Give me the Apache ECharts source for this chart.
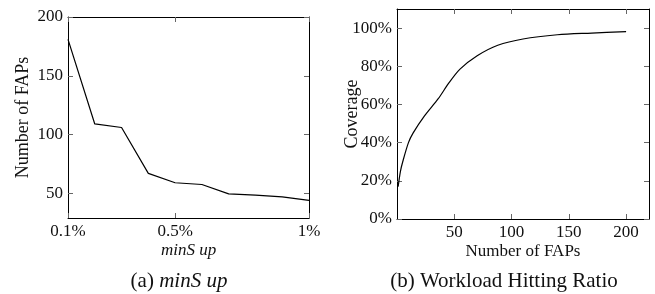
<!DOCTYPE html>
<html>
<head>
<meta charset="utf-8">
<script src="https://cdn.jsdelivr.net/npm/echarts@6/dist/echarts.min.js"></script>
<style>
  html, body { margin: 0; padding: 0; background: #fff; }
  #chart { width: 655px; height: 294px; }
</style>
</head>
<body>
<div id="chart"></div>
<script>
// (a) minSup vs number of FAPs
const minSup = [0.1, 0.2, 0.3, 0.4, 0.5, 0.6, 0.7, 0.8, 0.9, 1.0];
const fapCount = [181, 109, 106, 67, 59, 57.5, 49.5, 48.5, 47, 44];
const leftXTicks = [0.1, 0.5, 1];
const leftYTicks = [50, 100, 150, 200];

// (b) workload hitting ratio
const fapNum = [1, 3, 5, 10, 14, 24, 36, 45, 55, 70, 88, 110, 140, 170, 200];
const coverage = [17, 25, 30, 40, 45, 54, 63, 71, 78.5, 85.5, 91, 94.3, 96.5, 97.4, 98.2];
const rightXTicks = [50, 100, 150, 200];
const rightYTicks = [0, 20, 40, 60, 80, 100];

const serif = 'Liberation Serif';
const chart = echarts.init(document.getElementById('chart'));

function pct(v) {
  return Math.round(v * 10) / 10 + '%';
}

// main axis + a mirrored axis so ticks show on all four sides
function xAxes(gi, min, max, ticks, fmt, name, nameStyle) {
  return [{
    type: 'value', gridIndex: gi, min: min, max: max, position: 'bottom',
    name: name, nameLocation: 'middle', nameGap: 24, nameMoveOverlap: false,
    nameTextStyle: nameStyle,
    axisLine: { onZero: false, lineStyle: { color: '#000', width: 1 } },
    axisTick: { inside: true, length: 5, customValues: ticks, lineStyle: { color: '#666' } },
    axisLabel: { customValues: ticks, formatter: fmt, margin: 5, color: '#111', fontFamily: serif, fontSize: 17 },
    splitLine: { show: false }
  }, {
    type: 'value', gridIndex: gi, min: min, max: max, position: 'top',
    axisLine: { onZero: false, lineStyle: { color: '#000', width: 1 } },
    axisTick: { inside: true, length: 5, customValues: ticks, lineStyle: { color: '#666' } },
    axisLabel: { show: false },
    splitLine: { show: false }
  }];
}

function yAxes(gi, min, max, ticks, fmt, name, gap) {
  return [{
    type: 'value', gridIndex: gi, min: min, max: max, position: 'left',
    name: name, nameLocation: 'middle', nameGap: gap, nameRotate: 90, nameMoveOverlap: false,
    nameTextStyle: { color: '#111', fontFamily: serif, fontSize: 18 },
    axisLine: { show: true, onZero: false, lineStyle: { color: '#000', width: 1 } },
    axisTick: { show: true, inside: true, length: 5, customValues: ticks, lineStyle: { color: '#666' } },
    axisLabel: { customValues: ticks, formatter: fmt, margin: 5, color: '#111', fontFamily: serif, fontSize: 17 },
    splitLine: { show: false }
  }, {
    type: 'value', gridIndex: gi, min: min, max: max, position: 'right',
    axisLine: { show: true, onZero: false, lineStyle: { color: '#000', width: 1 } },
    axisTick: { show: true, inside: true, length: 5, customValues: ticks, lineStyle: { color: '#666' } },
    axisLabel: { show: false },
    splitLine: { show: false }
  }];
}

const option = {
  backgroundColor: '#fff',
  animation: false,
  title: [{
    text: '(a) {i|minS up}',
    left: 174, top: 266, textAlign: 'center',
    textStyle: {
      fontFamily: serif, fontSize: 21, fontWeight: 'normal', color: '#111',
      rich: { i: { fontFamily: serif, fontSize: 21, fontStyle: 'italic', color: '#111' } }
    }
  }, {
    text: '(b) Workload Hitting Ratio',
    left: 499, top: 266, textAlign: 'center',
    textStyle: { fontFamily: serif, fontSize: 21, fontWeight: 'normal', color: '#111' }
  }],
  grid: [
    { left: 68, top: 17, width: 241, height: 201 },
    { left: 397, top: 9, width: 252, height: 210 }
  ],
  xAxis: [].concat(
    xAxes(0, 0.1, 1, leftXTicks, pct, 'minS up',
      { color: '#111', fontFamily: serif, fontSize: 17, fontStyle: 'italic' }),
    xAxes(1, 0, 220, rightXTicks, null, 'Number of FAPs',
      { color: '#111', fontFamily: serif, fontSize: 17 })
  ),
  yAxis: [].concat(
    yAxes(0, 29, 200, leftYTicks, null, 'Number of FAPs', 36),
    yAxes(1, 0, 110, rightYTicks, '{value}%', 'Coverage', 36)
  ),
  series: [{
    type: 'line', xAxisIndex: 0, yAxisIndex: 0,
    data: minSup.map((x, i) => [x, fapCount[i]]),
    showSymbol: false, lineStyle: { color: '#000', width: 1.2 }
  }, {
    type: 'line', xAxisIndex: 2, yAxisIndex: 2,
    data: fapNum.map((x, i) => [x, coverage[i]]),
    smooth: 0.3,
    showSymbol: false, lineStyle: { color: '#000', width: 1.2 }
  }]
};

chart.setOption(option);
</script>
</body>
</html>
